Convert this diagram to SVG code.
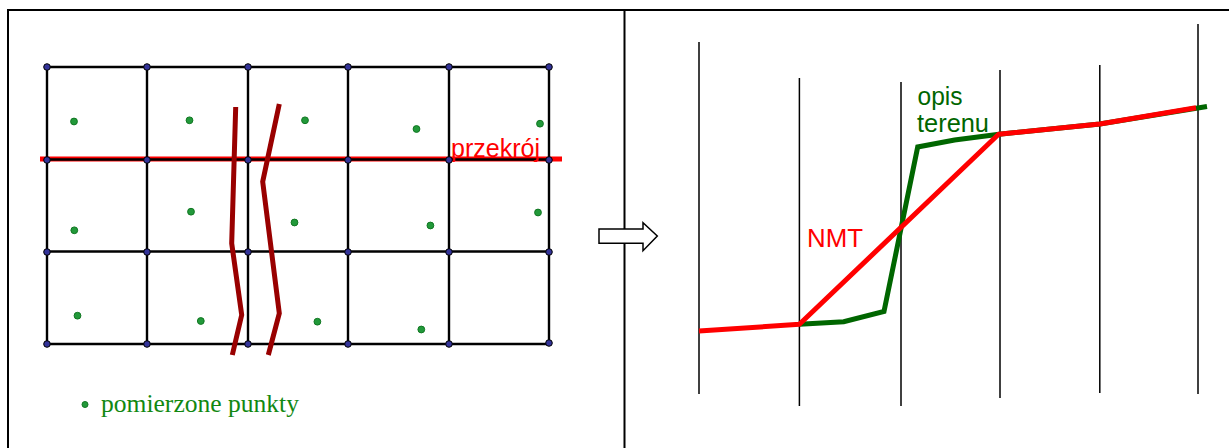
<svg xmlns="http://www.w3.org/2000/svg" width="1229" height="448" viewBox="0 0 1229 448">
<style>
.frame{fill:none;stroke:#000;stroke-width:2}
.grid{stroke:#000;stroke-width:2.4;fill:none}
.node{fill:#333399;stroke:#000;stroke-width:1}
.pt{fill:#22993a;stroke:#117722;stroke-width:1}
.river{fill:none;stroke:#990000;stroke-width:5;stroke-linejoin:miter}
.sect{stroke:#ff0000;stroke-width:5}
.vl{stroke:#000;stroke-width:1.5}
.nmt{fill:none;stroke:#ff0000;stroke-width:5;stroke-linejoin:round}
.ter{fill:none;stroke:#006600;stroke-width:5;stroke-linejoin:miter}
.lblr{font-family:"Liberation Sans",Arial,sans-serif;fill:#ff0000}
.lblg{font-family:"Liberation Sans",Arial,sans-serif;fill:#006600}
.leg{font-family:"Liberation Serif","Times New Roman",serif;fill:#118811}
</style>
<g id="frame">
<rect class="frame" x="8" y="10" width="1230" height="450"/>
<line class="frame" x1="624.5" y1="10" x2="624.5" y2="448"/>
</g>
<g id="section-line">
<line class="sect" x1="40" y1="159" x2="562" y2="159"/>
</g>
<g id="grid">
<path class="grid" d="M47,67H549M47,159.5H549M47,251.5H549M47,344H549M47,67V344M147,67V344M248,67V344M348,67V344M449,67V344M549,67V344"/>
</g>
<g id="grid-nodes">
<circle class="node" cx="47" cy="67" r="3.3"/><circle class="node" cx="147" cy="67" r="3.3"/><circle class="node" cx="248" cy="67" r="3.3"/><circle class="node" cx="348" cy="67" r="3.3"/><circle class="node" cx="449" cy="67" r="3.3"/><circle class="node" cx="549" cy="67" r="3.3"/>
<circle class="node" cx="47" cy="160" r="3.3"/><circle class="node" cx="147" cy="160" r="3.3"/><circle class="node" cx="248" cy="160" r="3.3"/><circle class="node" cx="348" cy="160" r="3.3"/><circle class="node" cx="449" cy="160" r="3.3"/><circle class="node" cx="549" cy="160" r="3.3"/>
<circle class="node" cx="47" cy="252" r="3.3"/><circle class="node" cx="147" cy="252" r="3.3"/><circle class="node" cx="248" cy="252" r="3.3"/><circle class="node" cx="348" cy="252" r="3.3"/><circle class="node" cx="449" cy="252" r="3.3"/><circle class="node" cx="549" cy="252" r="3.3"/>
<circle class="node" cx="47" cy="344" r="3.3"/><circle class="node" cx="147" cy="344" r="3.3"/><circle class="node" cx="248" cy="344" r="3.3"/><circle class="node" cx="348" cy="344" r="3.3"/><circle class="node" cx="449" cy="344" r="3.3"/><circle class="node" cx="549" cy="343" r="3.3"/>
</g>
<g id="measured-points">
<circle class="pt" cx="74" cy="121.5" r="3.4"/><circle class="pt" cx="189.5" cy="120.3" r="3.4"/><circle class="pt" cx="305" cy="120.3" r="3.4"/><circle class="pt" cx="416.5" cy="129" r="3.4"/><circle class="pt" cx="540" cy="123.7" r="3.4"/>
<circle class="pt" cx="74.3" cy="230.3" r="3.4"/><circle class="pt" cx="191" cy="211.7" r="3.4"/><circle class="pt" cx="294.5" cy="222.5" r="3.4"/><circle class="pt" cx="430.4" cy="225.5" r="3.4"/><circle class="pt" cx="538" cy="212.5" r="3.4"/>
<circle class="pt" cx="77.5" cy="315.7" r="3.4"/><circle class="pt" cx="200.8" cy="321" r="3.4"/><circle class="pt" cx="317.4" cy="321.7" r="3.4"/><circle class="pt" cx="421.3" cy="329.5" r="3.4"/>
</g>
<g id="break-lines">
<polyline class="river" points="235.7,107 231.7,243.3 241.7,315 232.3,355"/>
<polyline class="river" points="279.3,104 262.7,181.7 279.3,313.3 268.3,355"/>
</g>
<g id="label-przekroj">
<text class="lblr" x="451" y="156.5" font-size="26" textLength="89" lengthAdjust="spacingAndGlyphs">przekrój</text>
</g>
<g id="legend">
<circle class="pt" cx="85" cy="404.5" r="3"/>
<text class="leg" x="101" y="412" font-size="25" textLength="198" lengthAdjust="spacingAndGlyphs">pomierzone punkty</text>
</g>
<g id="arrow">
<path d="M599,229H643V222.7L657.3,236L643,250.7V243.3H599Z" fill="#fff" stroke="#000" stroke-width="1.5"/>
</g>
<g id="profile-lines">
<line class="vl" x1="699" y1="42" x2="699" y2="394"/>
<line class="vl" x1="799.4" y1="78" x2="799.4" y2="406"/>
<line class="vl" x1="901" y1="82" x2="901" y2="406"/>
<line class="vl" x1="1000" y1="70" x2="1000" y2="398"/>
<line class="vl" x1="1099.8" y1="65" x2="1099.8" y2="393"/>
<line class="vl" x1="1198" y1="24" x2="1198" y2="394"/>
</g>
<g id="terrain">
<polyline class="ter" points="799.4,324.3 843.7,321.7 884,311.5 917.7,147 954.6,140 999,134.3 1099.8,124 1207,106.5"/>
</g>
<g id="nmt">
<polyline class="nmt" points="699,331 799.4,324.3 998.6,134.3 1099.8,124 1196,107.8"/>
</g>
<g id="label-nmt">
<text class="lblr" x="807" y="247" font-size="26" textLength="56" lengthAdjust="spacingAndGlyphs">NMT</text>
</g>
<g id="label-opis">
<text class="lblg" x="917.5" y="104.5" font-size="26" textLength="45" lengthAdjust="spacingAndGlyphs">opis</text>
<text class="lblg" x="917" y="132" font-size="26" textLength="72" lengthAdjust="spacingAndGlyphs">terenu</text>
</g>
</svg>
